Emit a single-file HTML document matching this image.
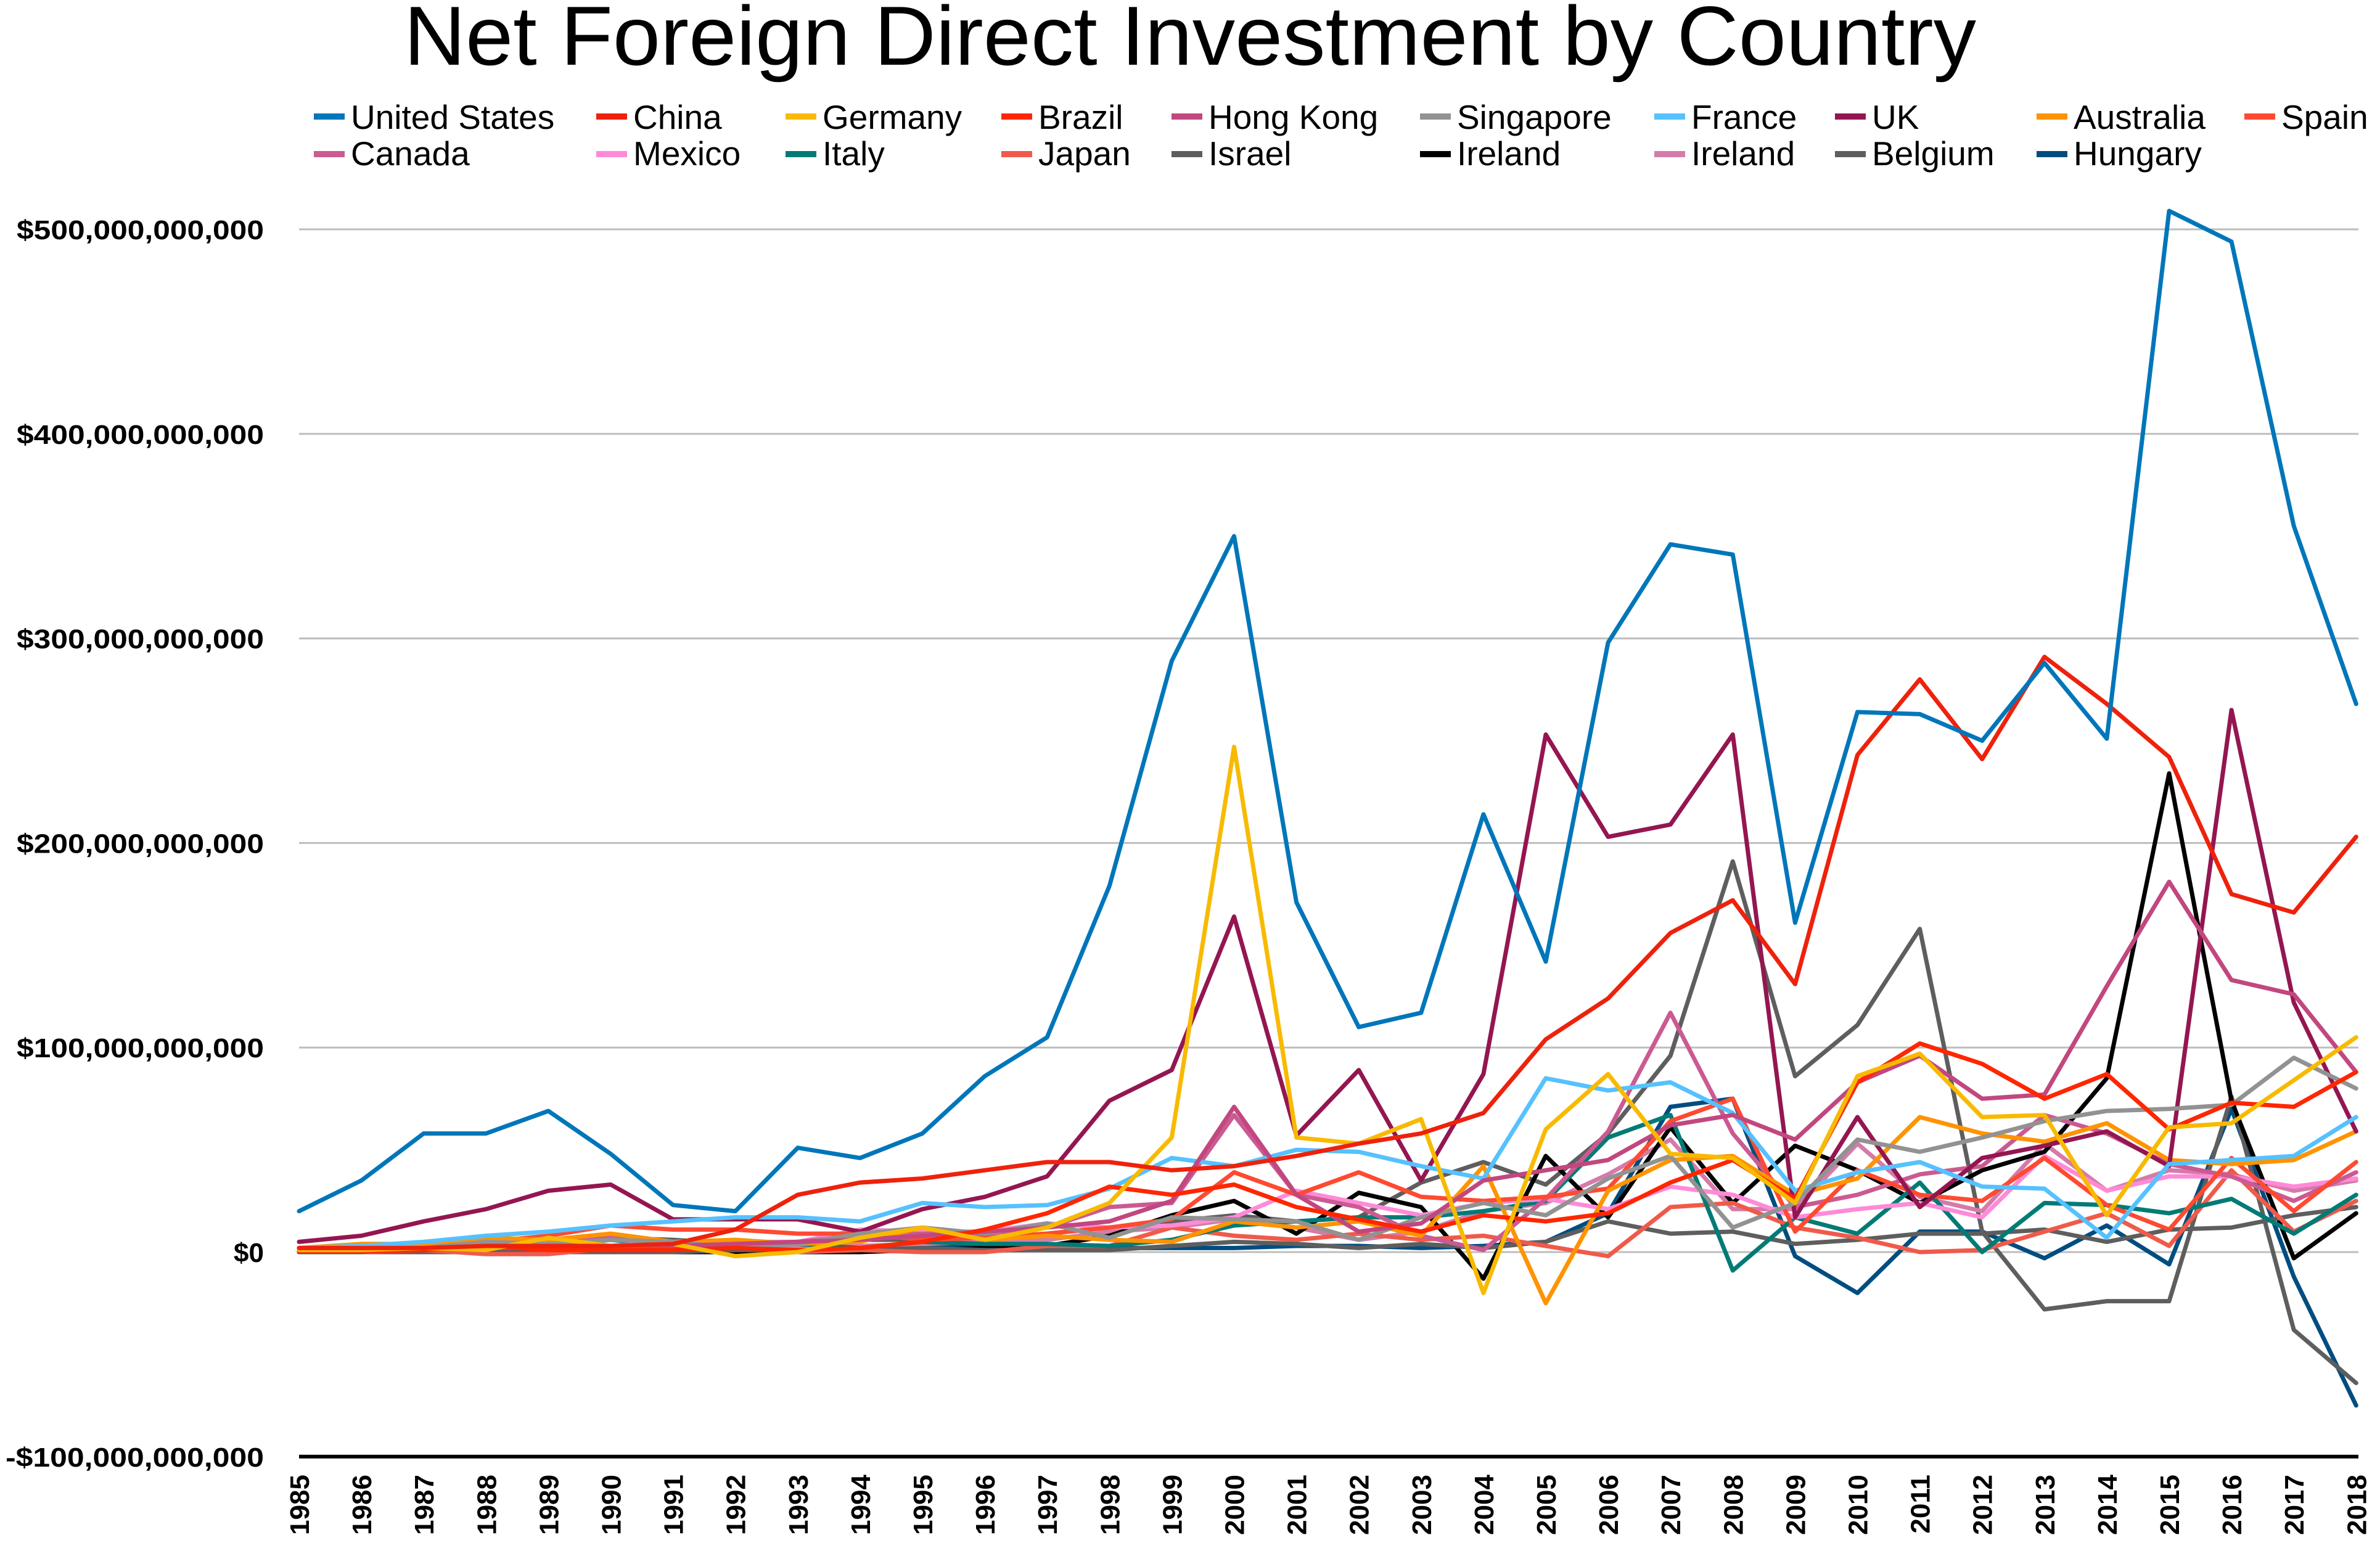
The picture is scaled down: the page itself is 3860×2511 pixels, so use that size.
<!DOCTYPE html>
<html><head><meta charset="utf-8"><style>
html,body{margin:0;padding:0;background:#fff;}
svg{display:block;font-family:"Liberation Sans",sans-serif;}
</style></head><body>
<svg id="c" width="3860" height="2511" viewBox="0 0 3860 2511" xmlns="http://www.w3.org/2000/svg">
<rect width="3860" height="2511" fill="#fff"/>
<text x="1930" y="105" font-size="136" text-anchor="middle" textLength="2550" lengthAdjust="spacingAndGlyphs">Net Foreign Direct Investment by Country</text>
<g id="grid"></g><g id="lines" fill="none" stroke-linejoin="round" stroke-linecap="round"></g><g id="leg" font-size="55"></g><g id="ax" font-weight="bold" font-size="44"></g>
</svg>
<script>
var X0=485,DX=101.1,Y0=2031,SY=3.318;
function px(i){return X0+i*DX}function py(v){return Y0-v*SY}
var S=[
["United States","#0076ba",[20,35,58,58,69,48,23,20,51,46,58,86,105,179,289,350,171,110,117,214,142,298,346,341,161,264,263,250,288,251,509,494,355,268]],
["China","#ee220c",[2,2,2,3,3,3,4,11,28,34,36,40,44,44,40,42,47,53,58,68,104,124,156,172,131,243,280,241,291,268,242,175,166,203]],
["Germany","#f8ba00",[1,1,2,1,7,3,4,-2,0,7,12,6,12,24,56,247,56,53,65,-20,60,87,48,46,24,86,97,66,67,18,61,63,84,105]],
["Brazil","#ff2600",[0.5,0.3,1,3,1,1,1,2,1,2,5,11,19,32,28,33,22,16,10,18,15,19,34,45,26,83,102,92,75,87,60,73,71,88]],
["Hong Kong","#c2477f",[1,1,2,2,2,2,3,4,5,6,8,10,12,15,25,71,28,10,14,35,40,45,62,67,55,83,96,75,77,130,181,133,126,88]],
["Singapore","#929292",[1,1,2,5,4,6,5,2,4,9,12,9,14,7,17,16,15,6,17,24,18,36,47,12,24,55,49,56,64,69,70,72,95,80]],
["France","#56c1ff",[2,3,5,8,10,13,15,17,17,15,24,22,23,31,46,42,50,49,42,36,85,79,83,68,30,39,44,32,31,7,43,45,47,66]],
["UK","#941651",[5,8,15,21,30,33,16,16,16,10,21,27,37,74,89,164,57,89,35,87,253,203,209,253,17,66,22,46,52,59,42,265,122,59]],
["Australia","#ff9300",[2,4,4,7,6,9,5,6,4,5,12,6,8,6,5,15,12,15,8,42,-25,30,45,47,28,36,66,58,54,63,45,43,45,59]],
["Spain","#ff4a32",[2,3,4,5,8,13,11,11,9,9,6,7,9,12,16,39,28,39,27,25,27,31,64,75,10,40,28,25,46,23,11,46,20,44]],
["Canada","#cb5a92",[1,2,3,5,5,8,3,4,5,8,9,9,12,22,24,67,28,22,8,1,26,59,117,58,22,28,38,42,67,58,43,37,25,39]],
["Mexico","#ff8ad8",[2,2,2,3,3,3,5,5,5,11,10,10,14,12,13,17,30,24,18,24,26,21,32,28,17,21,24,17,47,30,37,37,32,36]],
["Italy","#017b76",[1,0,4,7,3,6,3,3,4,2,5,4,4,3,6,13,15,17,17,20,25,56,67,-9,17,9,34,0,24,23,19,26,9,28]],
["Japan","#f05a4a",[1,0,1,-1,-1,2,1,3,0,1,0,0,3,3,12,8,6,9,6,8,3,-2,22,24,12,7,0,1,10,19,3,40,10,25]],
["Israel","#5e5e5e",[0,0,0,0,0,0,0,1,1,1,2,1,1,1,3,5,4,2,4,2,5,15,9,10,4,6,9,9,11,5,11,12,18,22]],
["Ireland","#000000",[0,0,0,0,0,0,0,0,0,0,1,2,3,8,18,25,9,29,22,-13,47,17,61,24,52,40,24,40,49,85,234,74,-3,19]],
["Ireland","#d57ba9",[2,2,2,2,2,3,2,2,3,3,4,5,6,10,12,16,12,6,10,20,24,38,55,21,21,53,27,20,53,30,40,38,30,35]],
["Belgium","#5e5e5e",[2,2,3,4,5,7,6,4,5,6,6,7,9,12,15,18,15,17,34,44,33,58,96,191,86,111,158,10,-28,-24,-24,76,-38,-64]],
["Hungary","#004d80",[0,0,0,0,0,1,1,1,2,1,4,2,2,2,2,2,3,3,2,3,5,19,71,75,-2,-20,10,10,-3,13,-6,70,-12,-75]]
];
var NS="http://www.w3.org/2000/svg";
function el(t,a,p,txt){var e=document.createElementNS(NS,t);for(var k in a)e.setAttribute(k,a[k]);if(txt!=null)e.textContent=txt;p.appendChild(e);return e}
var g=document.getElementById('grid'),ax=document.getElementById('ax');
var labs=["$500,000,000,000","$400,000,000,000","$300,000,000,000","$200,000,000,000","$100,000,000,000","$0","-$100,000,000,000"];
var lw=[401,401,401,401,401,0,419];
for(var i=0;i<7;i++){var v=500-100*i,y=py(v);
 el('line',{x1:485,x2:3825,y1:y,y2:y,stroke:i==6?'#000':'#bdbdbd','stroke-width':i==6?6:3},g);
 var a={x:428,y:y+16,'text-anchor':'end'};
 if(lw[i]){a.textLength=lw[i];a.lengthAdjust='spacingAndGlyphs';}
 el('text',a,ax,labs[i]);}
for(var i=0;i<34;i++){var x=px(i);
 el('text',{transform:'translate('+(x+16)+',2392) rotate(-90)','text-anchor':'end'},ax,String(1985+i));}
var L=document.getElementById('lines');
for(var s=S.length-1;s>=0;s--){var d=S[s][2].map(function(v,i){return px(i).toFixed(1)+','+py(v).toFixed(1)}).join(' ');
 el('polyline',{points:d,stroke:S[s][1],'stroke-width':7},L);}
var lg=document.getElementById('leg');
var xs=[569,1027,1334,1684,1960,2363,2743,3036,3363,3700];
for(var s=0;s<S.length;s++){var r=s<10?0:1,c=s<10?s:s-10,x=xs[c],yb=r?268:209,ys=r?250:189;
 el('rect',{x:x-60,y:ys-5,width:50,height:10,fill:S[s][1]},lg);
 el('text',{x:x,y:yb},lg,S[s][0]);}
</script>
</body></html>
